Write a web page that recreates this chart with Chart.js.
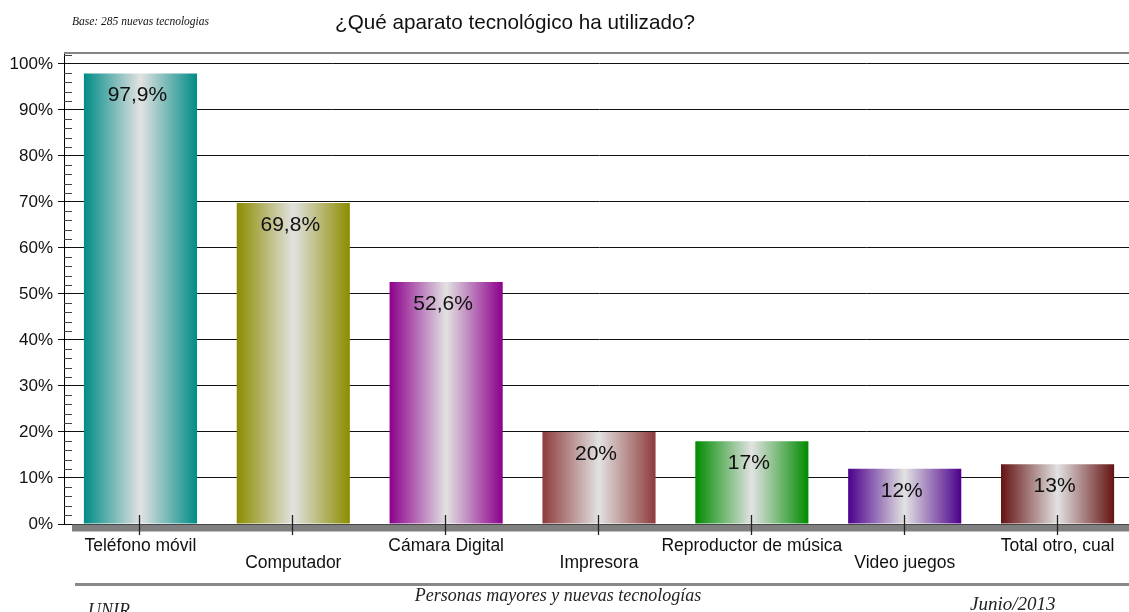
<!DOCTYPE html>
<html><head><meta charset="utf-8">
<script src="https://cdn.jsdelivr.net/npm/chart.js@4/dist/chart.umd.min.js"></script>
<style>html,body{margin:0;padding:0;background:#fff;overflow:hidden}canvas{display:block}</style>
</head><body>
<canvas id="c" width="1134" height="612"></canvas>
<script>
const categories = ["Teléfono móvil","Computador","Cámara Digital","Impresora","Reproductor de música","Video juegos","Total otro, cual"];
const values = [97.9, 69.8, 52.6, 20, 18, 12, 13];
const valueLabels = ["97,9%","69,8%","52,6%","20%","17%","12%","13%"];
const yTickValues = [0,10,20,30,40,50,60,70,80,90,100];
const barColors = ["#008c87","#8c8c00","#8c008c","#8e3b3b","#008c00","#4b008c","#651212"];
const titleText = "¿Qué aparato tecnológico ha utilizado?";
const baseText = "Base: 285 nuevas tecnologias";
const footerCenter = "Personas mayores y nuevas tecnologías";
const footerLeft = "UNIR";
const footerRight = "Junio/2013";

const SANS = 'Arial, "Liberation Sans", sans-serif';
const SERIF = '"Times New Roman", "Liberation Serif", serif';

const extras = {
  id: 'extras',
  beforeDraw(chart) {
    const ctx = chart.ctx;
    ctx.save();
    ctx.fillStyle = '#fff';
    ctx.fillRect(0, 0, chart.width, chart.height);
    ctx.restore();
  },
  afterDraw(chart) {
    const ctx = chart.ctx, ca = chart.chartArea, y = chart.scales.y, x = chart.scales.x;
    ctx.save();
    // top frame line
    ctx.strokeStyle = '#858585'; ctx.lineWidth = 2;
    ctx.beginPath(); ctx.moveTo(ca.left, ca.top + 1); ctx.lineTo(ca.right, ca.top + 1); ctx.stroke();
    // minor ticks
    ctx.strokeStyle = '#444'; ctx.lineWidth = 1;
    for (let v = 2; v <= 102; v += 2) {
      if (v % 10 === 0) continue;
      const py = Math.round(y.getPixelForValue(v)) + 0.5;
      ctx.beginPath(); ctx.moveTo(ca.left, py); ctx.lineTo(ca.left + 8, py); ctx.stroke();
    }
    // floor
    const base = y.getPixelForValue(0);
    ctx.fillStyle = '#7f7f7f';
    ctx.fillRect(ca.left + 8, base + 0.5, ca.right - ca.left, 7);
    // category ticks
    ctx.strokeStyle = '#222'; ctx.lineWidth = 1.3;
    categories.forEach((c, i) => {
      const px = Math.round(x.getPixelForValue(i)) - 0.5;
      ctx.beginPath(); ctx.moveTo(px, base - 9); ctx.lineTo(px, base + 11); ctx.stroke();
    });
    // data labels
    const meta = chart.getDatasetMeta(0);
    ctx.fillStyle = '#111';
    ctx.font = '21px ' + SANS;
    ctx.textAlign = 'center'; ctx.textBaseline = 'middle';
    meta.data.forEach((bar, i) => {
      ctx.fillText(valueLabels[i], bar.x - 3, bar.y + 22);
    });
    // title
    ctx.font = '20.7px ' + SANS;
    ctx.textAlign = 'left'; ctx.textBaseline = 'alphabetic';
    ctx.fillText(titleText, 335, 29);
    ctx.font = 'italic 11.5px ' + SERIF;
    ctx.fillStyle = '#111';
    ctx.fillText(baseText, 72, 25);
    // bottom line
    ctx.fillStyle = '#888';
    ctx.fillRect(75, 583, chart.width - 75, 3);
    // footer
    ctx.fillStyle = '#222';
    ctx.font = 'italic 18px ' + SERIF;
    ctx.textAlign = 'center';
    ctx.fillText(footerCenter, 558, 601);
    ctx.textAlign = 'left';
    ctx.fillText(footerLeft, 88, 616);
    ctx.font = 'italic 19px ' + SERIF;
    ctx.fillText(footerRight, 970, 610);
    ctx.restore();
  }
};

new Chart(document.getElementById('c'), {
  type: 'bar',
  data: {
    labels: categories,
    datasets: [{
      data: values,
      borderWidth: 0,
      categoryPercentage: 1,
      barPercentage: 0.74,
      backgroundColor: (c) => {
        const chart = c.chart, xs = chart.scales.x;
        const col = barColors[c.dataIndex];
        if (!xs || !chart.chartArea || c.dataIndex === undefined) return col;
        const cx = xs.getPixelForValue(c.dataIndex);
        const w = (xs.right - xs.left) / categories.length * 0.74;
        const g = chart.ctx.createLinearGradient(cx - w / 2, 0, cx + w / 2, 0);
        g.addColorStop(0, col);
        g.addColorStop(0.5, '#e2e2e2');
        g.addColorStop(1, col);
        return g;
      }
    }]
  },
  options: {
    responsive: false,
    animation: false,
    events: [],
    layout: { padding: { top: 52, left: 0, right: 0, bottom: 0 } },
    plugins: { legend: { display: false }, tooltip: { enabled: false }, title: { display: false } },
    scales: {
      x: {
        grid: { display: false, drawTicks: false },
        border: { display: false },
        afterFit: s => { s.height = 88; },
        ticks: {
          autoSkip: false, maxRotation: 0, minRotation: 0, padding: 13,
          color: '#111',
          font: { family: SANS, size: 17.5, lineHeight: 1.0 },
          callback: (v, i) => (i % 2 ? ["", categories[i]] : categories[i])
        }
      },
      y: {
        min: 0, max: 102.6,
        afterFit: s => { s.width = 64; },
        afterBuildTicks: s => { s.ticks = yTickValues.map(v => ({ value: v })); },
        grid: { color: '#111', lineWidth: 1, tickLength: 6, drawTicks: true },
        border: { display: true, color: '#000', width: 1 },
        ticks: {
          padding: 5, color: '#111',
          font: { family: SANS, size: 17 },
          callback: v => v + '%'
        }
      }
    }
  },
  plugins: [extras]
});
</script>
</body></html>
